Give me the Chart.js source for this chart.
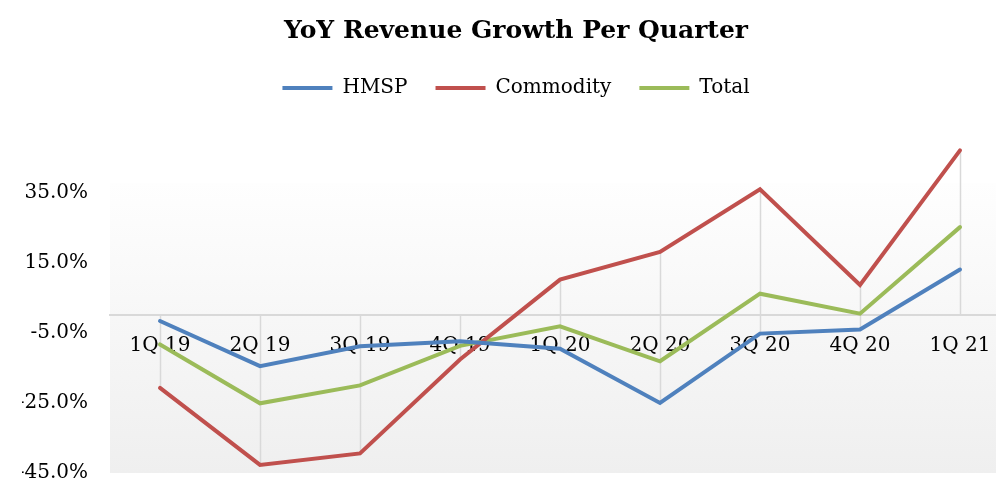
<!DOCTYPE html>
<html>
<head>
<meta charset="utf-8">
<script src="https://cdn.jsdelivr.net/npm/chart.js@4/dist/chart.umd.min.js"></script>
<style>
  html, body { margin: 0; padding: 0; background: #fff; overflow: hidden; }
  #wrap { width: 1010px; height: 507px; }
</style>
</head>
<body>
<div id="wrap"><canvas id="canvas"></canvas></div>
<script>
const categories = ['1Q 19', '2Q 19', '3Q 19', '4Q 19', '1Q 20', '2Q 20', '3Q 20', '4Q 20', '1Q 21'];
const hmsp = [-1.6, -14.5, -8.8, -7.4, -9.5, -25.0, -5.2, -4.0, 13.1];
const commodity = [-20.7, -42.7, -39.4, -12.6, 10.2, 18.1, 36.0, 8.7, 47.1];
const total = [-8.3, -25.1, -20.0, -8.7, -3.1, -13.1, 6.2, 0.5, 25.2];
const yTicks = [-45, -25, -5, 15, 35];

const font = 'DejaVu Serif';
const legendGap = 75;

// plot area fill + drop lines from the axis to the extreme points
const plotBack = {
    id: 'plotBack',
    beforeInit(chart) {
        const fit = chart.legend.fit;
        chart.legend.fit = function() { fit.call(this); this.height += legendGap; };
    },
    beforeDraw(chart) {
        const {ctx, chartArea: a, scales: {x, y}} = chart;
        ctx.save();
        let g = ctx.createLinearGradient(0, a.top, 0, a.bottom);
        g.addColorStop(0, '#fefefe');
        g.addColorStop(1, '#efefef');
        ctx.fillStyle = g;
        ctx.fillRect(a.left, a.top, a.right - a.left, a.bottom - a.top);
        ctx.strokeStyle = '#d9d9d9';
        ctx.lineWidth = 1.5;
        categories.forEach((c, i) => {
            let vals = chart.data.datasets.map(d => d.data[i]);
            let hi = Math.max(0, ...vals), lo = Math.min(0, ...vals);
            let px = Math.round(x.getPixelForValue(i)) + 0.5;
            ctx.beginPath();
            ctx.moveTo(px, y.getPixelForValue(hi));
            ctx.lineTo(px, y.getPixelForValue(lo));
            ctx.stroke();
        });
        ctx.restore();
    }
};

const series = [
    {label: 'HMSP', data: hmsp, color: '#4F81BD'},
    {label: 'Commodity', data: commodity, color: '#C0504D'},
    {label: 'Total', data: total, color: '#9BBB59'}
];

const ctx = document.getElementById('canvas').getContext('2d');
const chart = new Chart(ctx, {
    type: 'line',
    data: {
        labels: categories,
        datasets: series.map(s => ({
            label: s.label,
            data: s.data,
            borderColor: s.color,
            backgroundColor: s.color,
            borderWidth: 4,
            borderCapStyle: 'round',
            borderJoinStyle: 'miter',
            pointRadius: 0,
            tension: 0,
            clip: false
        }))
    },
    options: {
        responsive: true,
        maintainAspectRatio: false,
        animation: false,
        layout: {padding: {left: 22, right: 0, top: 0, bottom: 0}},
        plugins: {
            title: {
                display: true,
                text: 'YoY Revenue Growth Per Quarter',
                color: '#000',
                font: {family: font, size: 25, weight: 'bold'},
                padding: {top: 16, bottom: 4}
            },
            legend: {
                labels: {
                    color: '#000',
                    font: {family: font, size: 20},
                    boxWidth: 50,
                    boxHeight: 4,
                    padding: 28,
                    generateLabels(chart) {
                        return chart.data.datasets.map((d, i) => ({
                            text: d.label,
                            fillStyle: d.borderColor,
                            strokeStyle: d.borderColor,
                            lineWidth: 0,
                            fontColor: '#000',
                            datasetIndex: i,
                            hidden: false
                        }));
                    }
                }
            },
            tooltip: {enabled: false}
        },
        scales: {
            x: {
                position: {y: 0},
                offset: true,
                grid: {display: false, drawTicks: false},
                border: {display: true, color: '#d9d9d9', width: 2},
                ticks: {
                    color: '#000',
                    font: {family: font, size: 20},
                    padding: 18,
                    autoSkip: false,
                    maxRotation: 0
                }
            },
            y: {
                min: -45,
                max: 37.8,
                afterFit(scale) { scale.width = 88; },
                afterBuildTicks(scale) { scale.ticks = yTicks.map(v => ({value: v})); },
                grid: {display: false, drawTicks: false},
                border: {display: false},
                ticks: {
                    color: '#000',
                    font: {family: font, size: 20},
                    padding: 22,
                    callback: v => v.toFixed(1) + '%'
                }
            }
        }
    },
    plugins: [plotBack]
});
</script>
</body>
</html>
